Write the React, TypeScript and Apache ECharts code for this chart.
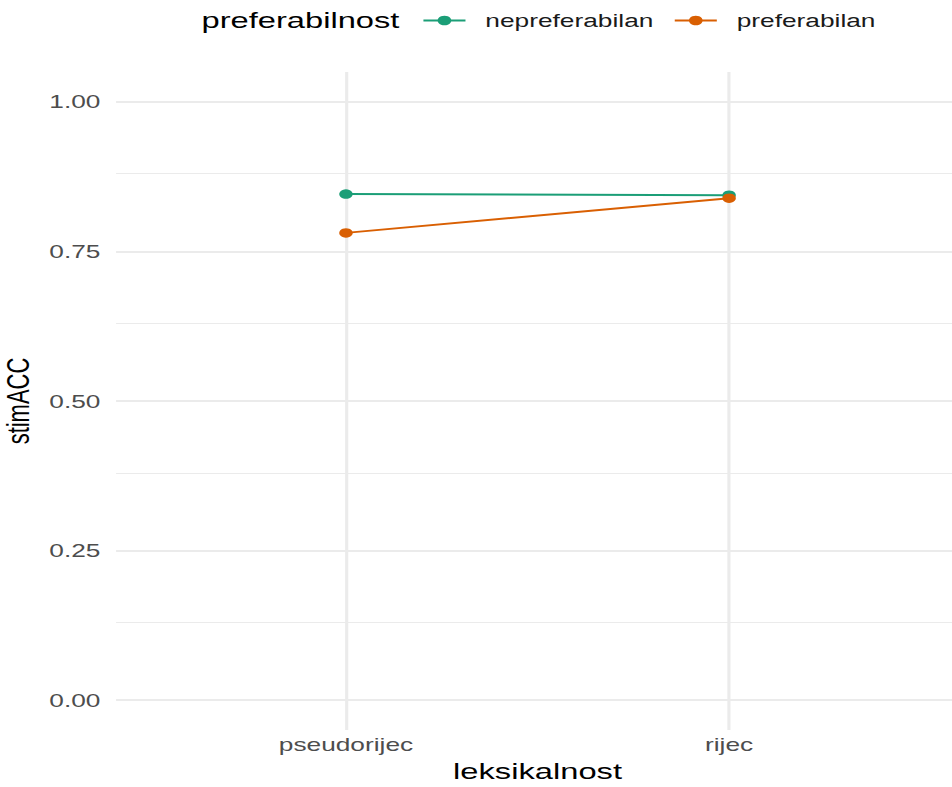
import React, { useEffect, useRef } from "react";
import * as echarts from "echarts";

const categories = ["pseudorijec", "rijec"];
const seriesNames = ["nepreferabilan", "preferabilan"];
const nepreferabilan = [0.846, 0.844];
const preferabilan = [0.781, 0.839];
const yTicks = [0, 0.25, 0.5, 0.75, 1.0];
const yMinor = [0.125, 0.375, 0.625, 0.875];
const colors = ["#1B9E77", "#D95F02"];

const W = 670;
const S = 952 / W;
const FONT = "'Liberation Sans', Arial, Helvetica, sans-serif";

export default function App() {
  const ref = useRef<HTMLDivElement>(null);
  useEffect(() => {
    if (!ref.current) return;
    const chart = echarts.init(ref.current, undefined, { renderer: "svg" });
    const gridMarks: any[] = [
      ...yTicks.map((v) => ({ yAxis: v, lineStyle: { width: 2.2, color: "#EBEBEB", type: "solid" } })),
      ...yMinor.map((v) => ({ yAxis: v, lineStyle: { width: 1.1, color: "#EBEBEB", type: "solid" } })),
      ...categories.map((_, i) => ({ xAxis: i, lineStyle: { width: 2.2, color: "#EBEBEB", type: "solid" } })),
    ];
    const makeData = (vals: number[]) => vals.map((v, i) => [i, v]);
    chart.setOption({
      animation: false,
      textStyle: { fontFamily: FONT },
      grid: { left: 81.7, top: 72, width: 593.2, height: 658, containLabel: false, outerBoundsMode: "none" },
      xAxis: {
        type: "value",
        min: -0.6,
        max: 1.6,
        axisLine: { show: false },
        axisTick: { show: false },
        splitLine: { show: false },
        axisLabel: {
          customValues: categories.map((_, i) => i),
          formatter: (v: number) => categories[Math.round(v)] ?? "",
          color: "#4D4D4D",
          fontSize: 18.5,
          margin: 5,
        },
        name: "leksikalnost",
        nameLocation: "middle",
        nameGap: 28,
        nameTextStyle: { fontSize: 23, color: "#000" },
      },
      yAxis: {
        type: "value",
        min: -0.05,
        max: 1.05,
        axisLine: { show: false },
        axisTick: { show: false },
        splitLine: { show: false },
        axisLabel: {
          customValues: yTicks,
          formatter: (v: number) => v.toFixed(2),
          color: "#4D4D4D",
          fontSize: 18.5,
          margin: 11,
        },
        name: "stimACC",
        nameLocation: "middle",
        nameGap: 48,
        nameTextStyle: { fontSize: 22, color: "#000" },
      },
      legend: {
        left: 297,
        top: 11,
        padding: 0,
        itemWidth: 29.6,
        itemHeight: 12,
        itemGap: 14,
        data: seriesNames,
        textStyle: { fontSize: 18.5, color: "#1a1a1a", padding: [0, 0, 0, 9] },
      },
      graphic: [
        {
          type: "text",
          x: 141.8,
          y: 20,
          style: { text: "preferabilnost", fontSize: 23, fill: "#000", fontFamily: FONT, verticalAlign: "middle" },
        },
      ],
      series: [
        {
          name: seriesNames[0],
          type: "line",
          z: 3,
          data: makeData(nepreferabilan),
          symbol: "circle",
          symbolSize: 9.5,
          lineStyle: { width: 1.9, color: colors[0] },
          itemStyle: { color: colors[0] },
          markLine: {
            silent: true,
            z: 1,
            symbol: ["none", "none"],
            label: { show: false },
            emphasis: { disabled: true },
            data: gridMarks,
          },
        },
        {
          name: seriesNames[1],
          type: "line",
          z: 3,
          data: makeData(preferabilan),
          symbol: "circle",
          symbolSize: 9.5,
          lineStyle: { width: 1.9, color: colors[1] },
          itemStyle: { color: colors[1] },
        },
      ],
    });
    return () => chart.dispose();
  }, []);
  return (
    <div style={{ position: "fixed", left: 0, top: 0, width: 952, height: 787, overflow: "hidden", background: "#fff" }}>
      <div ref={ref} style={{ width: W, height: 787, transform: `scaleX(${S})`, transformOrigin: "0 0" }} />
    </div>
  );
}
